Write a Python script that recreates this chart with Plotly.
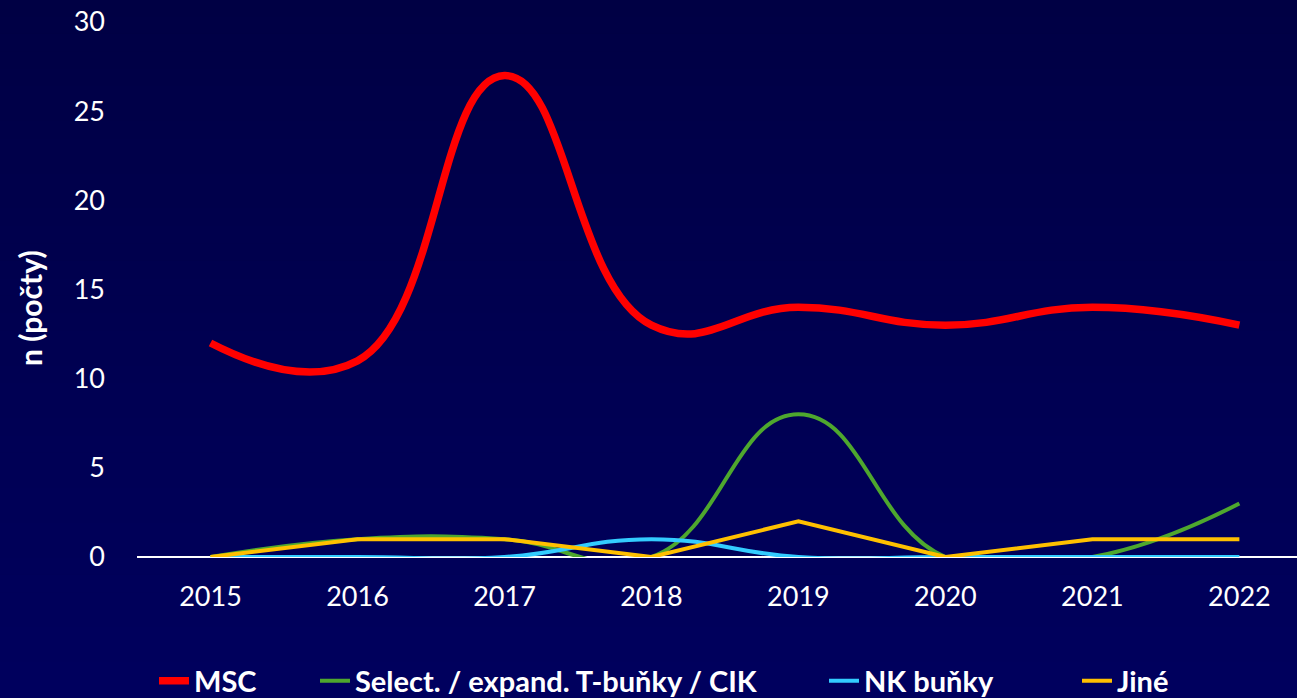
import plotly.graph_objects as go

years = ["2015", "2016", "2017", "2018", "2019", "2020", "2021", "2022"]
msc = [12, 11, 27, 13, 14, 13, 14, 13]
t_cells = [0, 1, 1, 0, 8, 0, 0, 3]
nk_cells = [0, 0, 0, 1, 0, 0, 0, 0]
other = [0, 1, 1, 0, 2, 0, 1, 1]

series = [
    ("MSC", msc, "#ff0000", 7.5, "spline"),
    ("Select. / expand. T-buňky / CIK", t_cells, "#4ea72e", 4, "spline"),
    ("NK buňky", nk_cells, "#33ccff", 4, "spline"),
    ("Jiné", other, "#ffc000", 4, "linear"),
]
legend_px = [162, 323, 832, 1085]

L, R, T, B, W, H = 137, 0, 22, 141, 1297, 698
pw, ph = W - L - R, H - T - B

fig = go.Figure()
legends = {}
for i, (name, vals, color, w, shape) in enumerate(series):
    lid = "legend" if i == 0 else "legend%d" % (i + 1)
    fig.add_trace(go.Scatter(
        x=list(range(len(years))), y=vals, name=name, mode="lines",
        line=dict(color=color, width=w, shape=shape, smoothing=1.3),
        legend=lid,
    ))
    legends[lid] = dict(
        orientation="h", xref="container", yref="container",
        x=(legend_px[i] - 8) / W, xanchor="left",
        y=1 - 681 / H, yanchor="middle",
        font=dict(family="Lato, sans-serif", size=29, color="white", weight="bold"),
        bgcolor="rgba(0,0,0,0)", itemwidth=30,
    )

# vertical gradient background
shapes = []
n = 40
top, bot = (0, 0, 68), (0, 0, 94)
y_top, y_bot = (T + ph) / ph, -B / ph
for i in range(n):
    t = (i + 0.5) / n
    c = tuple(round(top[k] + (bot[k] - top[k]) * t) for k in range(3))
    y1 = y_top + (y_bot - y_top) * i / n
    y0 = y_top + (y_bot - y_top) * (i + 1) / n
    shapes.append(dict(type="rect", xref="paper", yref="paper",
                       x0=-0.2, x1=1.05, y0=y0 - 0.002, y1=y1 + 0.002,
                       fillcolor="rgb(%d,%d,%d)" % c, line=dict(width=0),
                       layer="below"))

fig.update_layout(
    width=W, height=H,
    margin=dict(l=L, r=R, t=T, b=B),
    paper_bgcolor="#000052", plot_bgcolor="rgba(0,0,0,0)",
    font=dict(family="Lato, Open Sans, sans-serif", color="white", size=27),
    shapes=shapes,
    showlegend=True,
    xaxis=dict(
        tickmode="array", tickvals=list(range(len(years))), ticktext=years,
        range=[-0.5, 7.392], showgrid=False, zeroline=False, showline=False,
        ticks="", ticklabelstandoff=21, tickfont=dict(size=27),
    ),
    yaxis=dict(
        range=[0, 30], tickvals=[0, 5, 10, 15, 20, 25, 30], showgrid=False,
        zeroline=True, zerolinecolor="white", zerolinewidth=2,
        showline=False, ticks="", ticklabelstandoff=31, tickfont=dict(size=27),
        automargin=False,
    ),
    annotations=[dict(
        text="n (počty)", textangle=-90, showarrow=False,
        xref="paper", yref="paper", x=(30 - L) / pw, y=(T + ph - 308) / ph,
        xanchor="center", yanchor="middle",
        font=dict(size=30, weight="bold", color="white"),
    )],
    **legends,
)

fig.write_html("out.html", config={"displayModeBar": False},
               post_script="document.body.style.margin='0';document.body.style.overflow='hidden';")
